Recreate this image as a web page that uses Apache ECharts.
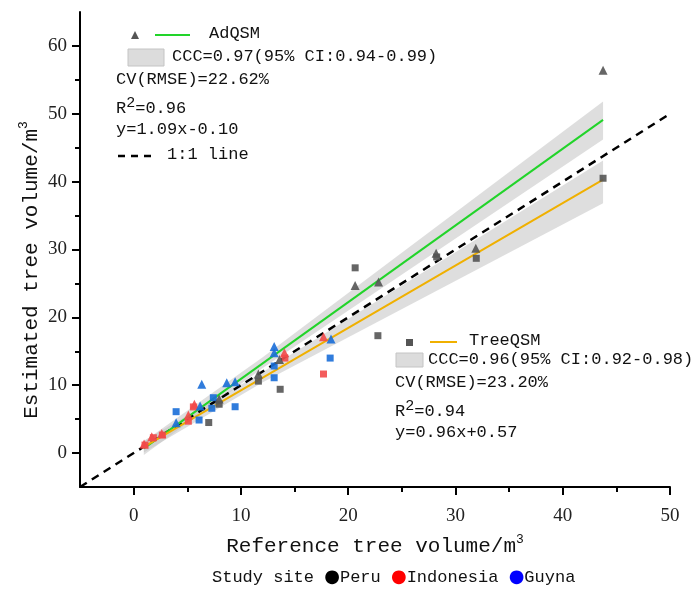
<!DOCTYPE html>
<html lang="en">
<head>
    <meta charset="UTF-8">
    <title>Tree volume</title>
    <script src="https://cdn.jsdelivr.net/npm/echarts@6/dist/echarts.min.js"></script>
    <style>
        html, body { margin: 0; padding: 0; background: #fff; }
        #main { width: 691px; height: 592px; }
    </style>
</head>
<body>
<div id="main"></div>
<script>
    // tick values
    var xTicks = [0, 10, 20, 30, 40, 50];
    var xMinor = [5, 15, 25, 35, 45];
    var yTicks = [0, 10, 20, 30, 40, 50, 60];
    var yMinor = [5, 15, 25, 35, 45, 55];

    // points: [reference, estimated]
    var peruAd = [[7.97, 7.96], [11.63, 11.65], [13.6, 13.8], [20.65, 24.7], [22.83, 25.2], [28.2, 29.45], [31.9, 30.2], [43.76, 56.4]];
    var peruTree = [[7.0, 4.5], [7.97, 7.2], [11.63, 10.6], [13.66, 9.4], [20.65, 27.3], [22.77, 17.3], [28.25, 28.9], [31.94, 28.7], [43.76, 40.5]];
    var indoAd = [[0.97, 1.33], [1.69, 2.4], [2.62, 2.9], [5.1, 5.6], [5.66, 7.2], [14.06, 14.8], [17.7, 17.15]];
    var indoTree = [[1.06, 1.18], [1.84, 2.26], [2.68, 2.65], [5.1, 4.7], [5.57, 6.8], [14.1, 14.0], [17.7, 11.65]];
    var guyAd = [[3.96, 4.47], [6.2, 6.93], [6.35, 10.13], [8.68, 10.37], [9.46, 10.5], [13.1, 14.8], [13.1, 15.7], [18.4, 16.8]];
    var guyTree = [[3.96, 6.1], [6.1, 4.87], [7.29, 6.6], [7.43, 8.16], [9.46, 6.83], [13.1, 11.1], [13.1, 12.83], [18.32, 14.0]];

    // fitted lines and 1:1 line
    var adFit = [[0.95, 0.7], [43.76, 49.1]];
    var treeFit = [[0.95, 0.93], [43.76, 40.3]];
    var oneToOne = [[-5, -5], [50, 50]];

    // confidence bands
    var bandX = [0.95, 12, 43.76];
    var adLow = [-0.3, 12.5, 46.2];
    var adHigh = [1.7, 14.1, 51.8];
    var treeLow = [0.1, 10.4, 36.8];
    var treeHigh = [1.8, 11.9, 43.1];

    var monoFont = 'Liberation Mono';
    var serifFont = 'Liberation Serif';
    var cPeru = '#555555', cIndo = '#f24a4a', cGuy = '#1a6ed8';

    function band(lo, hi) {
        return {
            type: 'custom',
            silent: true,
            z: 1,
            renderItem: function (params, api) {
                if (params.dataIndex !== 0) return;
                var pts = [];
                for (var i = 0; i < bandX.length; i++) pts.push(api.coord([bandX[i], hi[i]]));
                for (var j = bandX.length - 1; j >= 0; j--) pts.push(api.coord([bandX[j], lo[j]]));
                return {type: 'polygon', shape: {points: pts}, style: {fill: 'rgba(195,195,195,0.55)'}};
            },
            encode: {x: 0, y: [1, 2]},
            data: bandX.map(function (x, i) { return [x, lo[i], hi[i]]; })
        };
    }

    function pts(data, color, symbol, size) {
        return {
            type: 'scatter', data: data, symbol: symbol, symbolSize: size, z: 5,
            itemStyle: {color: color, opacity: 0.9}
        };
    }

    var myChart = echarts.init(document.getElementById('main'));

    function txt(x, y, s, rich) {
        var st = {x: 0, y: 0, text: s, fontFamily: monoFont, fontSize: 17, fill: '#111', verticalAlign: 'middle'};
        if (rich) st.rich = rich;
        return {type: 'text', left: x, top: y - 10, style: st};
    }

    var supRich = {
        a: {fontFamily: monoFont, fontSize: 17, fill: '#111'},
        s: {fontFamily: monoFont, fontSize: 15, fill: '#111', padding: [0, 0, 9, 0]}
    };

    option = {
        animation: false,
        grid: {left: 80, right: 21, top: 12, bottom: 105},
        xAxis: [
            {
                type: 'value', min: -5, max: 50, position: 'bottom',
                name: 'Reference tree volume/m{s|3}',
                nameLocation: 'middle', nameGap: 46,
                nameTextStyle: {
                    fontFamily: monoFont, fontSize: 21, color: '#111',
                    rich: {s: {fontFamily: monoFont, fontSize: 13, color: '#111', padding: [0, 0, 14, 0]}}
                },
                axisLine: {onZero: false, lineStyle: {color: '#000', width: 2}},
                axisTick: {customValues: xTicks, length: 8, lineStyle: {color: '#000', width: 2}},
                axisLabel: {customValues: xTicks, margin: 20, fontFamily: serifFont, fontSize: 19, color: '#222'},
                splitLine: {show: false}
            },
            {
                type: 'value', min: -5, max: 50, position: 'bottom',
                axisLine: {show: false, onZero: false},
                axisTick: {customValues: xMinor, length: 5, lineStyle: {color: '#000', width: 2}},
                axisLabel: {show: false},
                splitLine: {show: false}
            }
        ],
        yAxis: [
            {
                type: 'value', min: -5, max: 65, position: 'left',
                axisLine: {onZero: false, lineStyle: {color: '#000', width: 2}},
                axisTick: {customValues: yTicks, length: 8, lineStyle: {color: '#000', width: 2}},
                axisLabel: {customValues: yTicks, margin: 13, fontFamily: serifFont, fontSize: 19, color: '#222'},
                splitLine: {show: false}
            },
            {
                type: 'value', min: -5, max: 65, position: 'left',
                axisLine: {show: false, onZero: false},
                axisTick: {customValues: yMinor, length: 5, lineStyle: {color: '#000', width: 2}},
                axisLabel: {show: false},
                splitLine: {show: false}
            }
        ],
        series: [
            band(adLow, adHigh),
            band(treeLow, treeHigh),
            {
                type: 'line', data: oneToOne, showSymbol: false, z: 3,
                lineStyle: {color: '#000', width: 2.5, type: [8, 6]}
            },
            {
                type: 'line', data: adFit, showSymbol: false, z: 4,
                lineStyle: {color: '#22d42a', width: 2}
            },
            {
                type: 'line', data: treeFit, showSymbol: false, z: 4,
                lineStyle: {color: '#f0b000', width: 2}
            },
            pts(peruTree, cPeru, 'rect', 7),
            pts(indoTree, cIndo, 'rect', 7),
            pts(guyTree, cGuy, 'rect', 7),
            pts(peruAd, cPeru, 'triangle', 9),
            pts(indoAd, cIndo, 'triangle', 9),
            pts(guyAd, cGuy, 'triangle', 9)
        ],
        graphic: [
            // y axis title
            {
                type: 'text', x: 31, y: 270, rotation: Math.PI / 2,
                style: {
                    text: 'Estimated tree volume/m{s|3}', align: 'center', verticalAlign: 'middle',
                    fontFamily: monoFont, fontSize: 21, fill: '#111',
                    rich: {s: {fontFamily: monoFont, fontSize: 13, fill: '#111', padding: [0, 0, 14, 0]}}
                }
            },
            // AdQSM legend block
            {type: 'polygon', shape: {points: [[131, 39], [139, 39], [135, 31]]}, style: {fill: cPeru}},
            {type: 'line', shape: {x1: 155, y1: 35, x2: 190, y2: 35}, style: {stroke: '#22d42a', lineWidth: 2}},
            txt(209, 35, 'AdQSM'),
            {type: 'rect', shape: {x: 128, y: 49, width: 36, height: 17}, style: {fill: '#dcdcdc', stroke: '#c4c4c4'}},
            txt(172, 58, 'CCC=0.97(95% CI:0.94-0.99)'),
            txt(116, 81, 'CV(RMSE)=22.62%'),
            txt(116, 106, '{a|R}{s|2}{a|=0.96}', supRich),
            txt(116, 131, 'y=1.09x-0.10'),
            {type: 'line', shape: {x1: 118, y1: 156, x2: 157, y2: 156}, style: {stroke: '#000', lineWidth: 2.5, lineDash: [7, 6]}},
            txt(167, 156, '1:1 line'),
            // TreeQSM legend block
            {type: 'rect', shape: {x: 406, y: 339, width: 7, height: 7}, style: {fill: cPeru}},
            {type: 'line', shape: {x1: 430, y1: 342, x2: 457, y2: 342}, style: {stroke: '#f0b000', lineWidth: 2}},
            txt(469, 342, 'TreeQSM'),
            {type: 'rect', shape: {x: 396, y: 353, width: 27, height: 14}, style: {fill: '#dcdcdc', stroke: '#c4c4c4'}},
            txt(428, 361, 'CCC=0.96(95% CI:0.92-0.98)'),
            txt(395, 384, 'CV(RMSE)=23.20%'),
            txt(395, 409, '{a|R}{s|2}{a|=0.94}', supRich),
            txt(395, 434, 'y=0.96x+0.57'),
            // study site legend
            {
                type: 'text', left: 212, top: 568,
                style: {
                    text: 'Study site {k|●}Peru {r|●}Indonesia {b|●}Guyna',
                    fontFamily: monoFont, fontSize: 17, fill: '#111',
                    rich: {
                        k: {fontFamily: 'DejaVu Sans', fontSize: 18, fill: '#000'},
                        r: {fontFamily: 'DejaVu Sans', fontSize: 18, fill: '#ff0000'},
                        b: {fontFamily: 'DejaVu Sans', fontSize: 18, fill: '#0000ff'}
                    }
                }
            }
        ]
    };

    myChart.setOption(option, true);
</script>
</body>
</html>
